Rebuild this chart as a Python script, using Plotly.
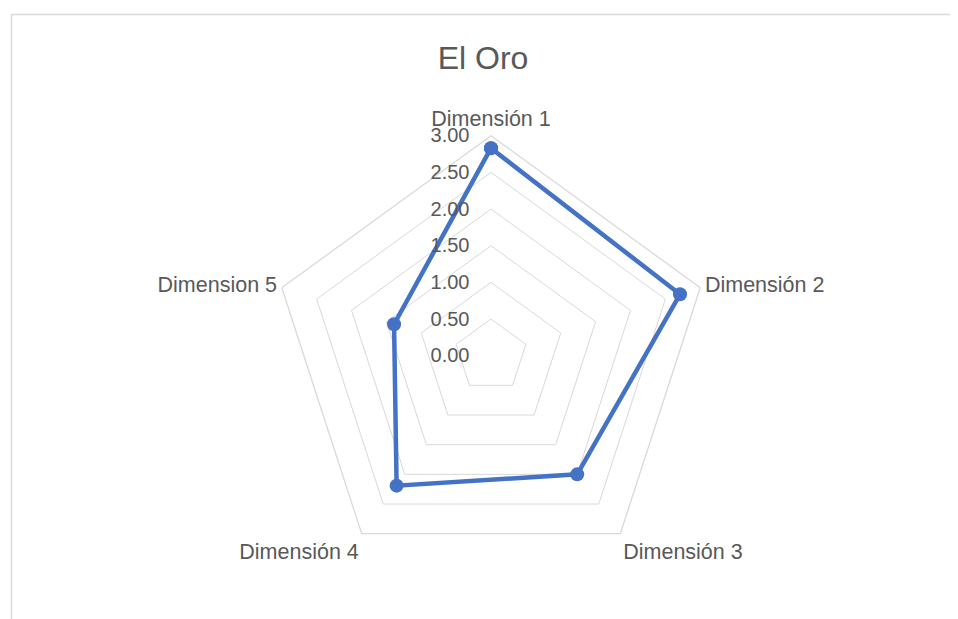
import plotly.graph_objects as go

categories = ["Dimensión 1", "Dimensión 2", "Dimensión 3", "Dimensión 4", "Dimension 5"]
values = [2.83, 2.71, 2.00, 2.19, 1.39]
tick_vals = [0, 0.5, 1.0, 1.5, 2.0, 2.5, 3.0]
tick_text = ["0.00", "0.50", "1.00", "1.50", "2.00", "2.50", "3.00"]

# page has 8px body margin
W, H = 950, 611
OFF = 8
cx, cy, R = 491 - OFF, 355.7 - OFF, 220

FONT = "Liberation Sans"
GRAY = "#595959"
GRID = "#d9d9d9"
BLUE = "#4472C4"

fig = go.Figure()
fig.add_trace(go.Scatterpolar(
    r=values + values[:1],
    theta=categories + categories[:1],
    mode="lines+markers",
    line=dict(color=BLUE, width=4.5),
    marker=dict(color=BLUE, size=14),
    showlegend=False,
    cliponaxis=False,
))

fig.update_layout(
    width=W, height=H,
    margin=dict(l=0, r=0, t=0, b=0),
    paper_bgcolor="white",
    plot_bgcolor="white",
    title=dict(text="El Oro", x=(483 - OFF) / W, xanchor="center", y=1 - (58 - OFF) / H, yanchor="middle",
               font=dict(family=FONT, size=32, color=GRAY)),
    polar=dict(
        domain=dict(x=[(cx - R) / W, (cx + R) / W], y=[(H - cy - R) / H, (H - cy + R) / H]),
        bgcolor="white",
        gridshape="linear",
        radialaxis=dict(
            range=[0, 3], tickvals=tick_vals, ticktext=tick_text,
            angle=90, tickangle=90, side="counterclockwise",
            showline=False, gridcolor=GRID, gridwidth=1.3,
            ticks="outside", ticklen=14, tickcolor="rgba(0,0,0,0)",
            tickfont=dict(family=FONT, size=20, color=GRAY),
        ),
        angularaxis=dict(
            rotation=90, direction="clockwise",
            showline=True, linecolor=GRID, linewidth=1.3,
            showgrid=False, ticks="",
            tickfont=dict(family=FONT, size=21.5, color=GRAY),
        ),
    ),
    shapes=[dict(type="rect", xref="paper", yref="paper",
                 x0=(11.5 - OFF) / W, x1=1.05, y0=-0.05, y1=1 - (14.5 - OFF) / H,
                 line=dict(color="#d9d9d9", width=1.5), fillcolor="rgba(0,0,0,0)", layer="below")],
)

fig.write_html("out.html")
